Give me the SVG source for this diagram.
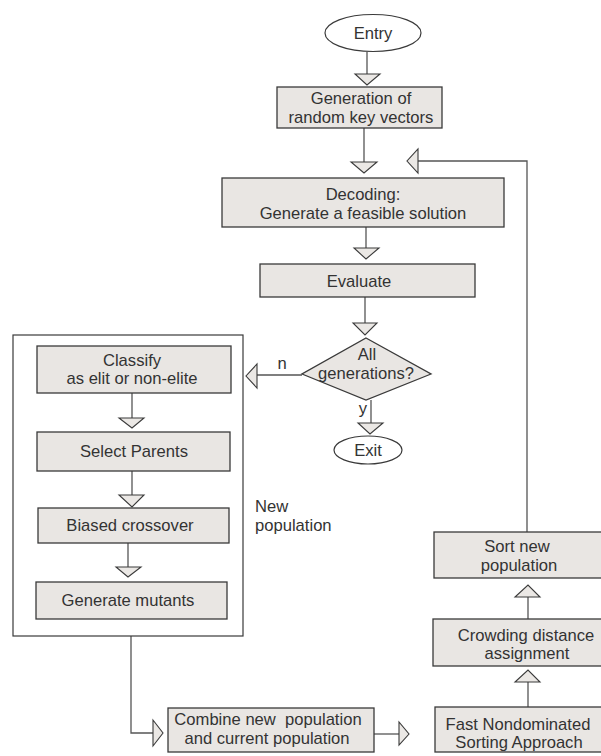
<svg xmlns="http://www.w3.org/2000/svg" width="601" height="756" viewBox="0 0 601 756">
<style>
.box{fill:#e9e6e3;stroke:#3a3a3a;stroke-width:1.3}
.term{fill:#ffffff;stroke:#3a3a3a;stroke-width:1.2}
.frame{fill:none;stroke:#3a3a3a;stroke-width:1.2}
.ln{fill:none;stroke:#555;stroke-width:1.3}
.tri{fill:#ebe8e5;stroke:#3a3a3a;stroke-width:1.1}
text{font-family:"Liberation Sans",Arial,sans-serif;font-size:16.6px;fill:#333;text-anchor:middle}
.l{text-anchor:start}
</style>
<rect width="601" height="756" fill="#ffffff"/>

<g id="connectors">
  <line class="ln" x1="367" y1="52" x2="367" y2="74"/>
  <polygon class="tri" points="355,74 380,74 367,85"/>
  <line class="ln" x1="364" y1="128" x2="364" y2="162"/>
  <polygon class="tri" points="351,162 377,162 364,173"/>
  <line class="ln" x1="366" y1="227" x2="366" y2="248"/>
  <polygon class="tri" points="354,248 379,248 366,259"/>
  <line class="ln" x1="365" y1="297" x2="365" y2="323"/>
  <polygon class="tri" points="353,323 377,323 365,335"/>
  <line class="ln" x1="302" y1="375" x2="257" y2="375"/>
  <polygon class="tri" points="257,364 257,388 246,376"/>
  <text x="282" y="369">n</text>
  <line class="ln" x1="371" y1="400" x2="371" y2="423"/>
  <polygon class="tri" points="358,423 383,423 370,434"/>
  <text x="363" y="414">y</text>
  <line class="ln" x1="132" y1="393" x2="132" y2="418"/>
  <polygon class="tri" points="119,418 144,418 132,428"/>
  <line class="ln" x1="132" y1="471" x2="132" y2="495"/>
  <polygon class="tri" points="119,495 144,495 132,507"/>
  <line class="ln" x1="128" y1="543" x2="128" y2="567"/>
  <polygon class="tri" points="116,567 141,567 128,577"/>
  <polyline class="ln" points="131,636 131,733 153,733"/>
  <polygon class="tri" points="153,720 153,746 163,733"/>
  <line class="ln" x1="374" y1="734" x2="399" y2="734"/>
  <polygon class="tri" points="399,722 399,745 409,734"/>
  <line class="ln" x1="528" y1="707" x2="528" y2="682"/>
  <polygon class="tri" points="515,682 540,682 528,670"/>
  <line class="ln" x1="528" y1="619" x2="528" y2="597"/>
  <polygon class="tri" points="515,597 540,597 528,585"/>
  <polyline class="ln" points="527,532 527,161 418,161"/>
  <polygon class="tri" points="418,149 418,173 407,161"/>
</g>

<g id="entry">
  <ellipse class="term" cx="373" cy="33" rx="48" ry="18.5"/>
  <text x="373" y="39">Entry</text>
</g>
<g id="generation">
  <rect class="box" x="277" y="87" width="165" height="41"/>
  <text x="361" y="104">Generation of</text>
  <text x="361" y="122.5">random key vectors</text>
</g>
<g id="decoding">
  <rect class="box" x="222" y="178" width="282" height="49"/>
  <text x="363" y="200">Decoding:</text>
  <text x="363" y="219">Generate a feasible solution</text>
</g>
<g id="evaluate">
  <rect class="box" x="260" y="264" width="215" height="33"/>
  <text x="359" y="287">Evaluate</text>
</g>
<g id="decision">
  <polygon class="box" points="366,338 431,374 366,400 302,374"/>
  <text x="367" y="360">All</text>
  <text x="366" y="379">generations?</text>
</g>
<g id="exit">
  <ellipse class="term" cx="368" cy="450" rx="34" ry="14"/>
  <text x="368" y="456">Exit</text>
</g>
<g id="new-population">
  <rect class="frame" x="13" y="335" width="230" height="301"/>
  <text class="l" x="255" y="512">New</text>
  <text class="l" x="255" y="530.5">population</text>
</g>
<g id="classify">
  <rect class="box" x="37" y="346" width="194" height="47"/>
  <text x="132" y="365.5">Classify</text>
  <text x="132" y="384">as elit or non-elite</text>
</g>
<g id="select">
  <rect class="box" x="37" y="432" width="193" height="39"/>
  <text x="134" y="457">Select Parents</text>
</g>
<g id="crossover">
  <rect class="box" x="38" y="508" width="191" height="35"/>
  <text x="130" y="531">Biased crossover</text>
</g>
<g id="mutants">
  <rect class="box" x="36" y="582" width="191" height="37"/>
  <text x="128" y="606">Generate mutants</text>
</g>
<g id="combine">
  <rect class="box" x="168" y="708" width="206" height="44"/>
  <text x="268" y="725" xml:space="preserve">Combine new  population</text>
  <text x="267" y="743.5">and current population</text>
</g>
<g id="fast-sorting">
  <rect class="box" x="435" y="707" width="170" height="45"/>
  <text x="518" y="729.5">Fast Nondominated</text>
  <text x="519" y="748">Sorting Approach</text>
</g>
<g id="crowding">
  <rect class="box" x="433" y="619" width="172" height="47"/>
  <text x="526" y="640.5">Crowding distance</text>
  <text x="527" y="659">assignment</text>
</g>
<g id="sort">
  <rect class="box" x="434" y="532" width="171" height="46"/>
  <text x="517" y="552">Sort new</text>
  <text x="519" y="570.5">population</text>
</g>
</svg>
